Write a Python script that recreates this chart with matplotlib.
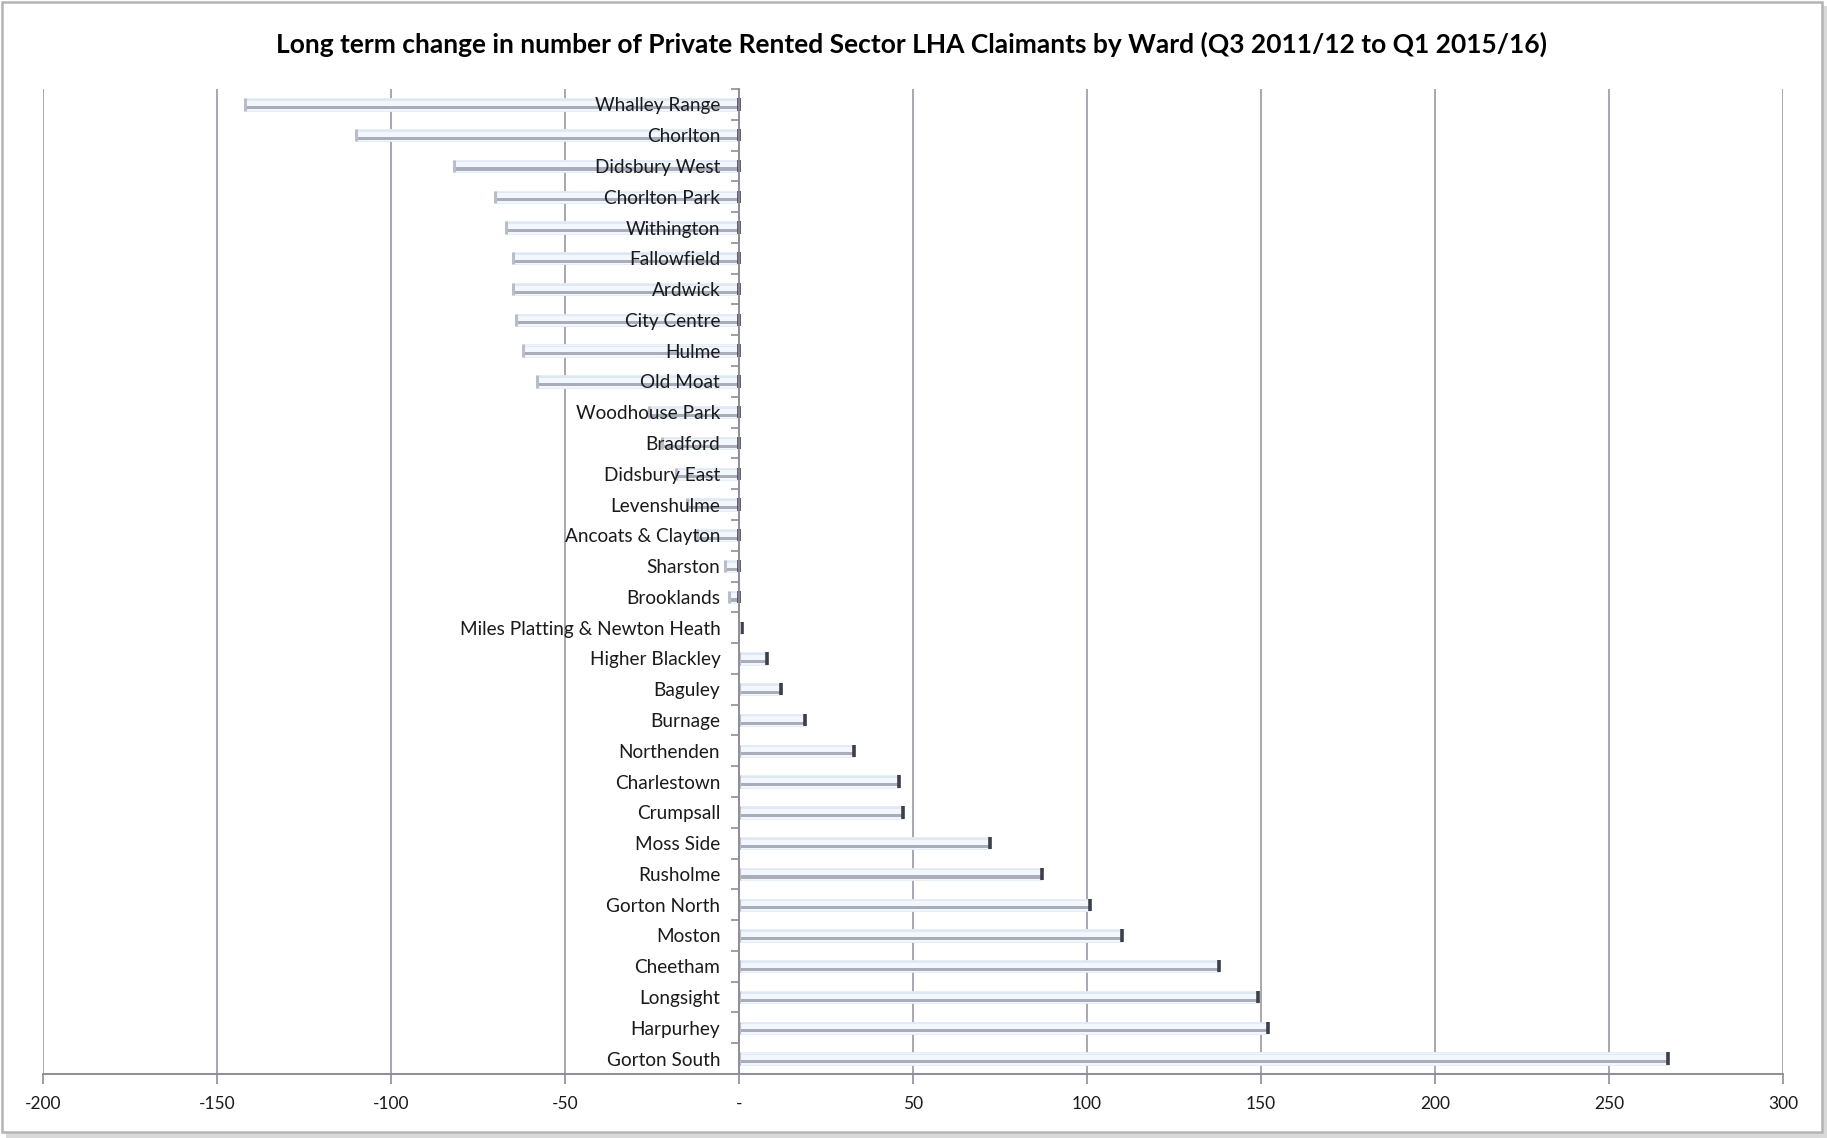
import matplotlib
matplotlib.use("Agg")
import matplotlib.pyplot as plt
from matplotlib.patches import Rectangle
from matplotlib.ticker import FixedLocator, FuncFormatter

plt.rcParams['font.family'] = ['Lato', 'DejaVu Sans']

# Change in LHA claimants per ward, ordered as plotted (top to bottom)
wards = [
    "Whalley Range", "Chorlton", "Didsbury West", "Chorlton Park", "Withington",
    "Fallowfield", "Ardwick", "City Centre", "Hulme", "Old Moat",
    "Woodhouse Park", "Bradford", "Didsbury East", "Levenshulme",
    "Ancoats & Clayton", "Sharston", "Brooklands",
    "Miles Platting & Newton Heath", "Higher Blackley", "Baguley", "Burnage",
    "Northenden", "Charlestown", "Crumpsall", "Moss Side", "Rusholme",
    "Gorton North", "Moston", "Cheetham", "Longsight", "Harpurhey",
    "Gorton South",
]
change = [
    -142, -110, -82, -70, -67,
    -65, -65, -64, -62, -58,
    -26, -22, -18, -15,
    -12, -4, -3,
    1, 8, 12, 19,
    33, 46, 47, 72, 87,
    101, 110, 138, 149, 152,
    267,
]
x_ticks = [-200, -150, -100, -50, 0, 50, 100, 150, 200, 250, 300]

W, H = 1827, 1138
fig = plt.figure(figsize=(W / 100, H / 100), dpi=100)

# Chart frame with a soft shadow on the right and bottom
fig.patches.append(Rectangle((1822 / W, 0), 5 / W, 1 - 6 / H, transform=fig.transFigure,
                             facecolor='#d9d9d9', edgecolor='none', zorder=0))
fig.patches.append(Rectangle((6 / W, 0), 1 - 6 / W, 5 / H, transform=fig.transFigure,
                             facecolor='#d9d9d9', edgecolor='none', zorder=0))
fig.patches.append(Rectangle((1.5 / W, 6 / H), 1820 / W, 1 - 8 / H, transform=fig.transFigure,
                             facecolor='white', edgecolor='#b4b4b4', linewidth=1.8, zorder=1))

ax = fig.add_axes([43 / W, 64 / H, 1740 / W, (1074 - 89) / H])
ax.set_facecolor('none')
ax.set_zorder(2)

n = len(wards)
ypos = list(range(n))
bar_h = 0.40

# Bar body: pale face with a grey underside band
ax.barh(ypos, change, height=bar_h, color='#f1f7fd', edgecolor='#e3ebf4',
        linewidth=0.6, zorder=3)
ax.barh([y + 0.10 for y in ypos], change, height=0.10, color='#a9adba',
        edgecolor='none', zorder=4)
ax.barh([y - 0.14 for y in ypos], change, height=0.05, color='#e0e8f3',
        edgecolor='none', zorder=4)

# End caps: dark on the right-hand end, light on the left-hand end
right_end = [max(v, 0) for v in change]
left_end = [min(v, 0) for v in change]
ax.vlines(right_end, [y - bar_h / 2 for y in ypos], [y + bar_h / 2 for y in ypos],
          colors='#3b3f47', linewidth=2.6, zorder=5)
ax.vlines(left_end, [y - bar_h / 2 for y in ypos], [y + bar_h / 2 for y in ypos],
          colors='#b9bdc8', linewidth=2.2, zorder=5)

ax.set_xlim(-200, 300)
ax.set_ylim(n - 0.5, -0.5)

# Vertical gridlines stay underneath; category labels are drawn over the bars
ax.xaxis.set_major_locator(FixedLocator(x_ticks))
ax.grid(axis='x', color='#a39fab', linewidth=1.3)
ax.set_axisbelow(True)
ax.xaxis.set_zorder(0.5)
ax.yaxis.set_zorder(7)

ax.xaxis.set_major_formatter(FuncFormatter(lambda v, p: '-' if v == 0 else f'{int(v)}'))
ax.tick_params(axis='x', direction='out', length=7, width=1.2, color='#8f8b98',
               labelsize=12.5, pad=9, labelcolor='#1a1a1a')

# Category axis sits at zero; tick marks fall between categories
for s in ('top', 'right'):
    ax.spines[s].set_visible(False)
ax.spines['left'].set_position(('data', 0))
ax.spines['left'].set_color('#8f8b98')
ax.spines['left'].set_linewidth(1.3)
ax.spines['left'].set_zorder(6)
ax.spines['bottom'].set_color('#8f8b98')
ax.spines['bottom'].set_linewidth(1.4)

ax.set_yticks(ypos)
ax.set_yticklabels(wards)
ax.tick_params(axis='y', which='major', length=0, pad=13.5, labelsize=13.7,
               labelcolor='#1a1a1a')
ax.yaxis.set_minor_locator(FixedLocator([y + 0.5 for y in ypos[:-1]] + [-0.5]))
ax.tick_params(axis='y', which='minor', direction='out', length=6, width=1.2,
               color='#8f8b98')

fig.text(0.499, 1 - 44 / H,
         'Long term change in number of Private Rented Sector LHA Claimants by Ward (Q3 2011/12 to Q1 2015/16)',
         ha='center', va='center', fontsize=19, fontweight='bold', color='#000000')

fig.savefig('out.png', dpi=100)
